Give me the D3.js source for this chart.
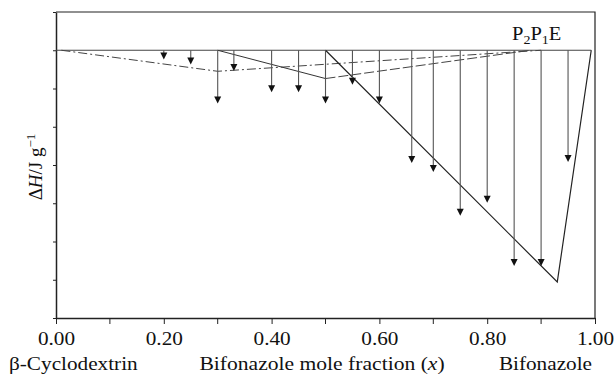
<!DOCTYPE html>
<html>
<head>
<meta charset="utf-8">
<script src="https://cdn.jsdelivr.net/npm/d3@7"></script>
<style>
  body { margin: 0; background: #fff; }
  text { font-family: "Liberation Serif", "Times New Roman", serif; fill: #111; }
</style>
</head>
<body>
<script>
// mole fractions of the measured mixtures and their peak enthalpy (arrow tips)
var arrowX = [0.20, 0.25, 0.30, 0.33, 0.40, 0.45, 0.50, 0.55, 0.60, 0.66, 0.70, 0.75, 0.80, 0.85, 0.90, 0.95];
var arrowY = [-0.24, -0.37, -1.39, -0.54, -1.10, -1.10, -1.39, -0.90, -1.39, -2.95, -3.18, -4.33, -3.99, -5.64, -5.64, -2.92];

// Tammann triangles
var triA = [[0.01, 0], [0.30, -0.55], [0.90, 0]];        // dash-dot
var triB1 = [[0.30, 0], [0.50, -0.74]];                  // solid part
var triB2 = [[0.50, -0.74], [0.88, 0]];                  // dashed part
var triC = [[0.50, 0], [0.93, -6.06], [0.993, 0]];       // main solid
var baseline = [[0.0, 0], [0.993, 0]];

var xTicks = [0, 0.2, 0.4, 0.6, 0.8, 1.0];
var xMinor = [0.1, 0.3, 0.5, 0.7, 0.9];
var yTicks = [-7, -6, -5, -4, -3, -2, -1, 0, 1];

var W = 616, H = 375;
var svg = d3.select("body").append("svg")
    .attr("width", W)
    .attr("height", H);

var x = d3.scaleLinear().domain([0, 1]).range([56, 595]);
var y = d3.scaleLinear().domain([-7, 1]).range([318, 12]);

var line = d3.line()
    .x(function(d) { return x(d[0]); })
    .y(function(d) { return y(d[1]); });

// frame (top and right)
svg.append("path")
    .attr("d", "M" + x(0) + "," + y(1) + "H" + x(1) + "V" + y(-7))
    .attr("fill", "none")
    .attr("stroke", "#222")
    .attr("stroke-width", 1.2);

// x axis
var xAxis = svg.append("g")
    .attr("transform", "translate(0," + y(-7) + ")")
    .call(d3.axisBottom(x).tickValues(xTicks).tickFormat(d3.format(".2f")).tickSize(6).tickSizeOuter(0));
xAxis.append("g").selectAll("line")
    .data(xMinor)
    .enter().append("line")
    .attr("x1", function(d) { return x(d); })
    .attr("x2", function(d) { return x(d); })
    .attr("y1", 0).attr("y2", 6)
    .attr("stroke", "#222");
xAxis.select(".domain").attr("stroke", "#222").attr("stroke-width", 1.5);
xAxis.selectAll(".tick line").attr("stroke", "#222");
xAxis.selectAll(".tick text")
    .attr("y", 0)
    .attr("dy", 0)
    .attr("transform", "translate(0,27) scale(1.18,1)")
    .style("font-size", "18px")
    .attr("fill", "#111");

// y axis
var yAxis = svg.append("g")
    .attr("transform", "translate(" + x(0) + ",0)")
    .call(d3.axisLeft(y).tickValues(yTicks).tickFormat("").tickSize(3).tickSizeOuter(0));
yAxis.select(".domain").attr("stroke", "#222").attr("stroke-width", 1.5);
yAxis.selectAll(".tick line").attr("stroke", "#222");

// baseline
svg.append("path").datum(baseline)
    .attr("d", line).attr("fill", "none")
    .attr("stroke", "#444").attr("stroke-width", 1.2);

// triangles
svg.append("path").datum(triA)
    .attr("d", line).attr("fill", "none")
    .attr("stroke", "#444").attr("stroke-width", 1)
    .attr("stroke-dasharray", "9,3,2,3");
svg.append("path").datum(triB1)
    .attr("d", line).attr("fill", "none")
    .attr("stroke", "#333").attr("stroke-width", 1);
svg.append("path").datum(triB2)
    .attr("d", line).attr("fill", "none")
    .attr("stroke", "#444").attr("stroke-width", 1)
    .attr("stroke-dasharray", "10,3");
svg.append("path").datum(triC)
    .attr("d", line).attr("fill", "none")
    .attr("stroke", "#222").attr("stroke-width", 1.2);

// arrows
var arrows = svg.append("g").selectAll("g")
    .data(arrowX.map(function(v, i) { return [v, arrowY[i]]; }))
    .enter().append("g");
arrows.append("line")
    .attr("x1", function(d) { return x(d[0]); })
    .attr("x2", function(d) { return x(d[0]); })
    .attr("y1", y(0))
    .attr("y2", function(d) { return y(d[1]) - 5; })
    .attr("stroke", "#555").attr("stroke-width", 1.1);
arrows.append("path")
    .attr("d", function(d) {
      var cx = x(d[0]), ty = y(d[1]);
      return "M" + (cx - 3.5) + "," + (ty - 7) + "L" + (cx + 3.5) + "," + (ty - 7) + "L" + cx + "," + ty + "Z";
    })
    .attr("fill", "#111");

// P2P1E label
var lab = svg.append("text")
    .attr("transform", "translate(512,40) scale(1.08,1)")
    .style("font-size", "19px");
lab.append("tspan").text("P");
lab.append("tspan").attr("dy", 4).style("font-size", "13px").text("2");
lab.append("tspan").attr("dy", -4).text("P");
lab.append("tspan").attr("dy", 4).style("font-size", "13px").text("1");
lab.append("tspan").attr("dy", -4).text("E");

// y axis label
var yl = svg.append("text")
    .attr("transform", "translate(42,167) rotate(-90)")
    .attr("text-anchor", "middle")
    .style("font-size", "19px");
yl.append("tspan").text("\u0394");
yl.append("tspan").style("font-style", "italic").text("H");
yl.append("tspan").text("/J g");
yl.append("tspan").attr("dy", -7).style("font-size", "13px").text("\u22121");

// bottom texts
svg.append("text")
    .attr("transform", "translate(9,370) scale(1.18,1)")
    .style("font-size", "18px")
    .text("\u03b2-Cyclodextrin");
var mid = svg.append("text")
    .attr("transform", "translate(322,370) scale(1.2,1)")
    .attr("text-anchor", "middle")
    .style("font-size", "18px");
mid.append("tspan").text("Bifonazole mole fraction (");
mid.append("tspan").style("font-style", "italic").text("x");
mid.append("tspan").text(")");
svg.append("text")
    .attr("transform", "translate(592,370) scale(1.18,1)")
    .attr("text-anchor", "end")
    .style("font-size", "18px")
    .text("Bifonazole");
</script>
</body>
</html>
